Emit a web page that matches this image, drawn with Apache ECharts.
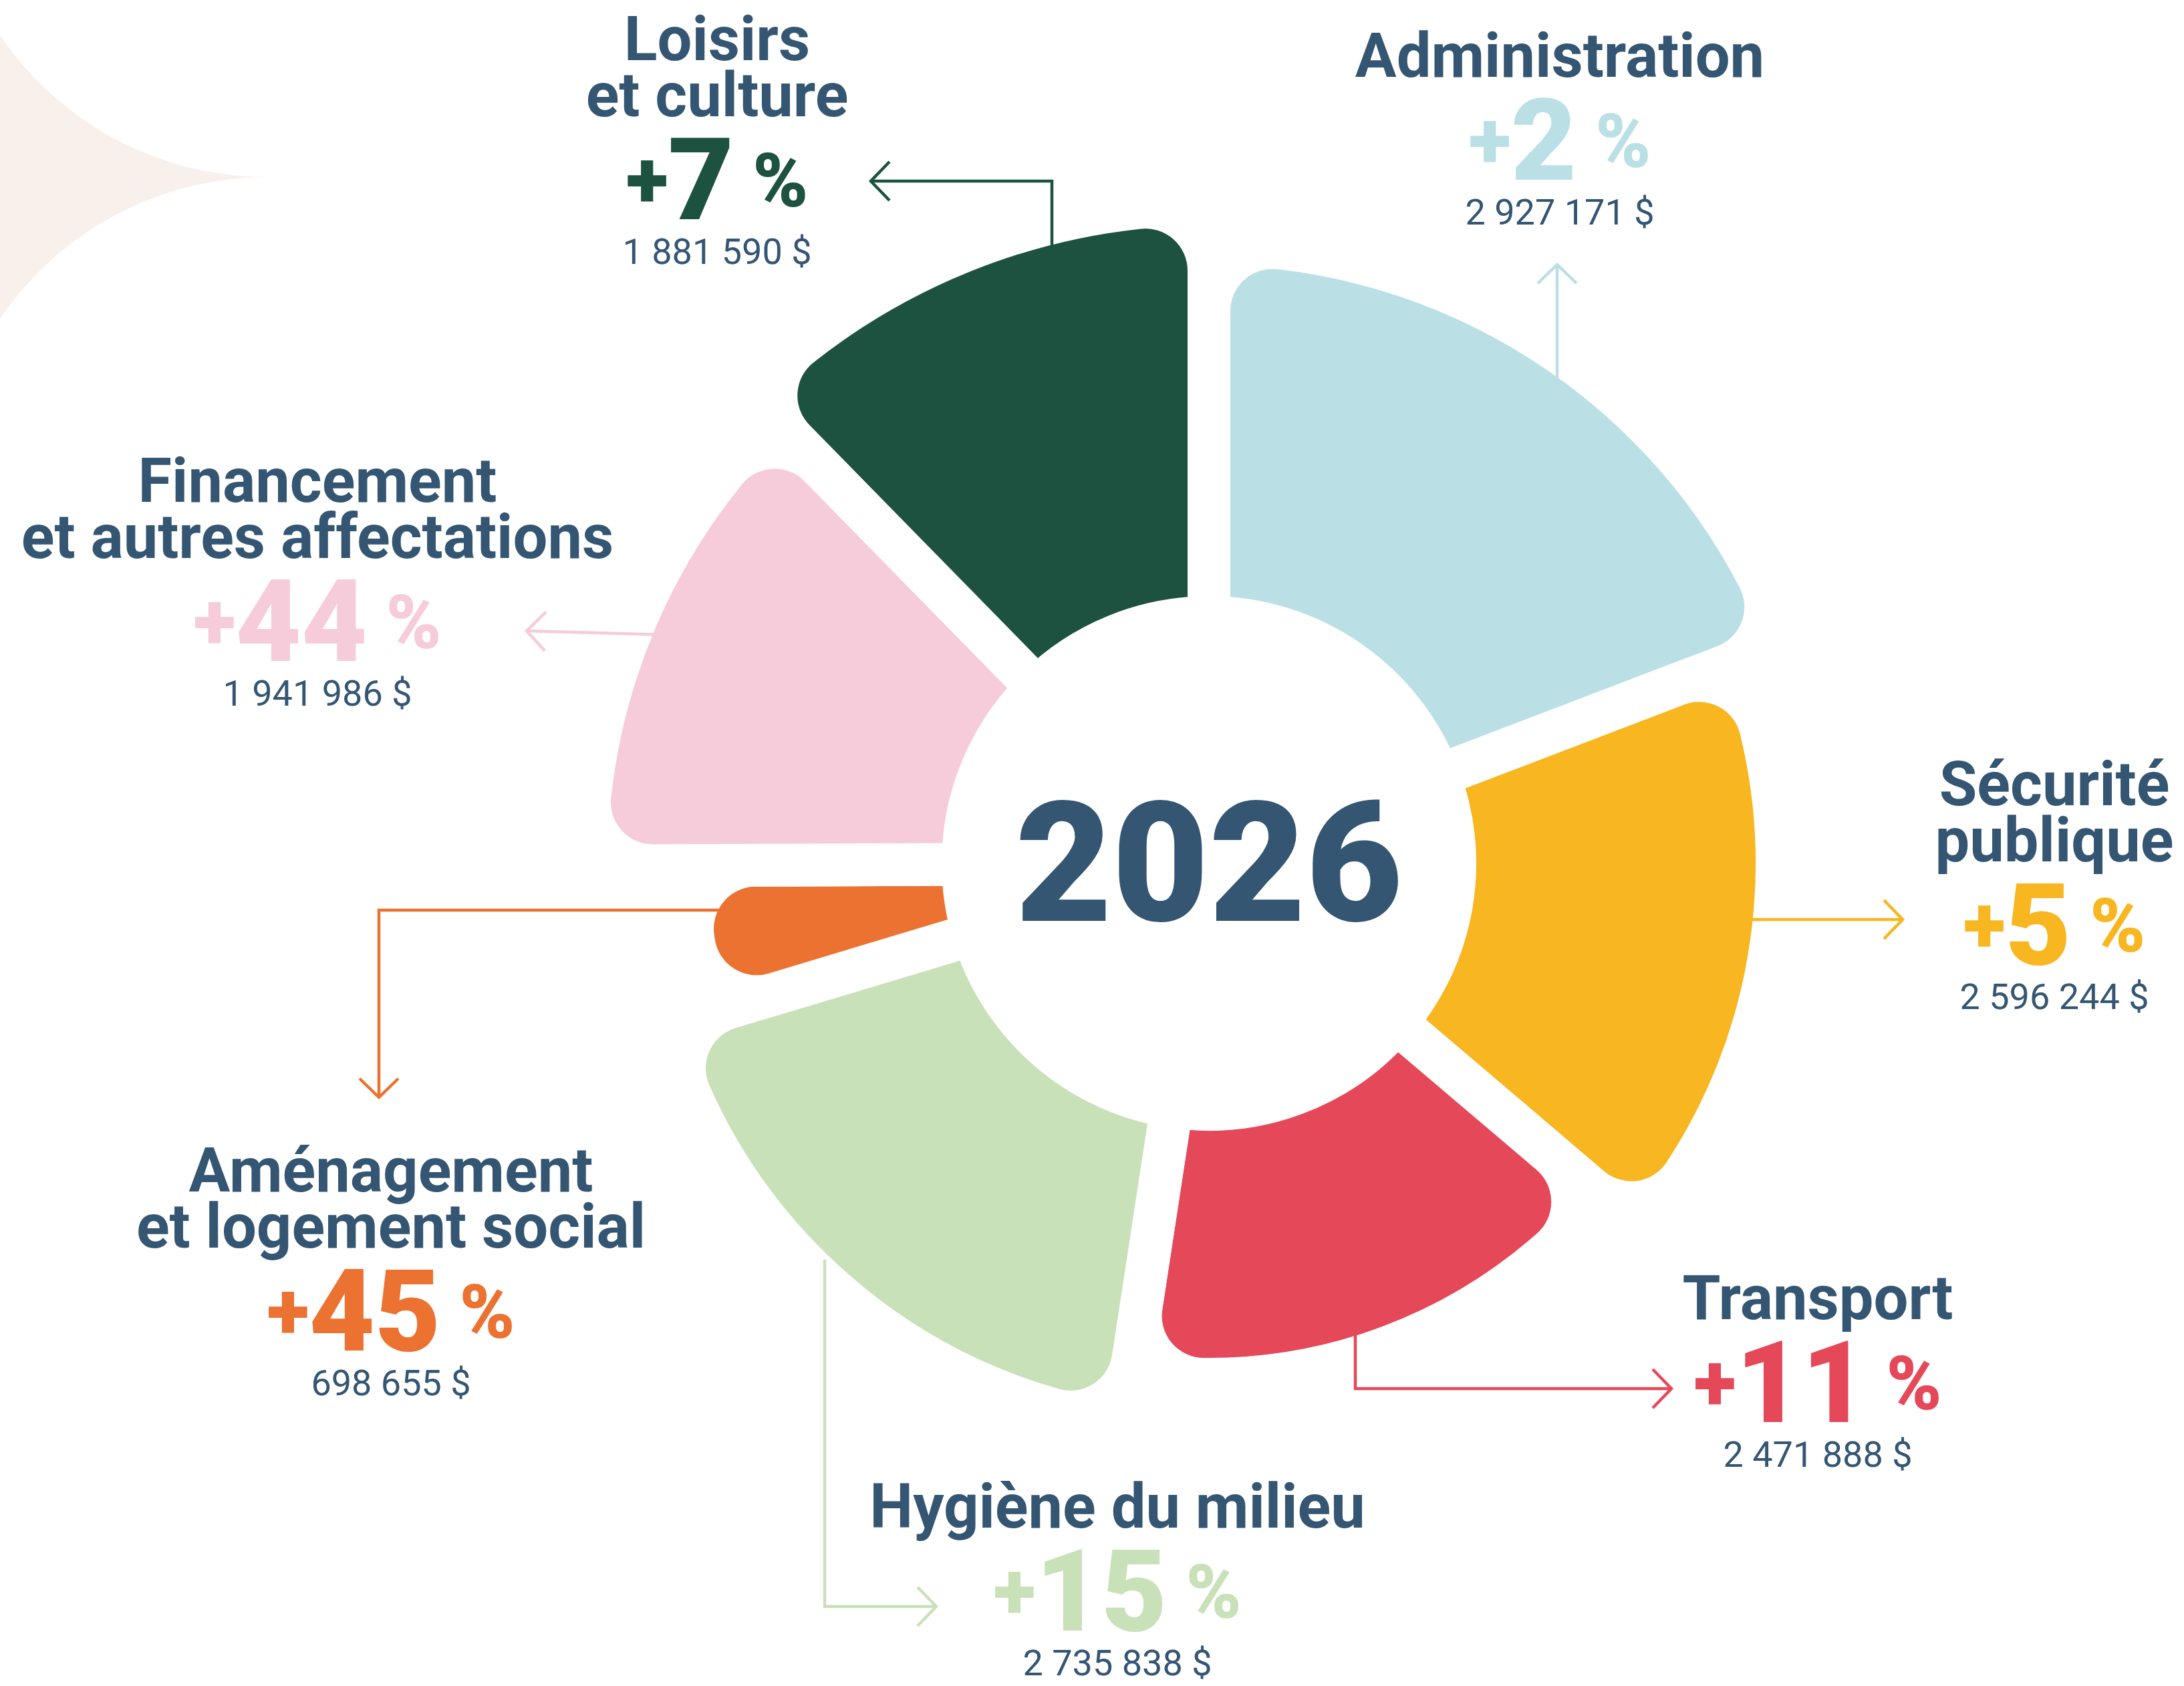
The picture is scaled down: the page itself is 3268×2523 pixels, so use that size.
<!DOCTYPE html>
<html>
<head>
<meta charset="utf-8">
<title>Budget 2026</title>
<script src="https://cdn.jsdelivr.net/npm/echarts@6/dist/echarts.min.js"></script>
<style>
  html, body { margin: 0; padding: 0; background: #fff; }
  #chart { width: 3268px; height: 2523px; }
</style>
</head>
<body>
<div id="chart"></div>
<script>
// Budget items, clockwise from 12 o'clock
const categories = [
  'Administration',
  'Sécurité\npublique',
  'Transport',
  'Hygiène du milieu',
  'Aménagement\net logement social',
  'Financement\net autres affectations',
  'Loisirs\net culture'
];
const amounts = [2927171, 2596244, 2471888, 2735838, 698655, 1941986, 1881590];
const changes = [2, 5, 11, 15, 45, 44, 7]; // % change
const year = '2026';

// Styling / layout (not data)
const colors = ['#BAE0E6', '#F8B620', '#E54859', '#C9E1B9', '#EC7231', '#F6CBDA', '#1D5140'];
const outerRadius = [895, 818, 740, 818, 748, 900, 955]; // visible outer edge, px
const labelAnchor = [[2334, 41], [3074, 1131], [2720, 1900], [1672, 2212], [585, 1709], [475, 677], [1073, 16]];
// leader lines, last point is the arrow tip
const connectors = [
  [[2330, 585], [2330, 396]],
  [[2600, 1376], [2847, 1376]],
  [[2028, 1985], [2028, 2078], [2501, 2078]],
  [[1234, 1885], [1234, 2404], [1401, 2404]],
  [[1085, 1362], [567, 1362], [567, 1642]],
  [[995, 950], [788, 944]],
  [[1574, 380], [1574, 271], [1303, 271]]
];

const navy = '#345673';
const CENTER = [1809, 1292];
const INNER = 400;   // visible inner edge
const GAP = 64;      // white gap between slices
const CORNER = 95;

const fmt = v => String(v).replace(/\B(?=(\d{3})+(?!\d))/g, ' ') + ' $';

function richFor(c) {
  return {
    t: { fontFamily: 'Roboto', fontWeight: 700, fontSize: 92, lineHeight: 84, color: navy },
    s: { fontFamily: 'Roboto', fontWeight: 900, fontSize: 118, lineHeight: 172, color: c },
    n: { fontFamily: 'Roboto', fontWeight: 900, fontSize: 170, lineHeight: 172, color: c },
    p: { fontFamily: 'Roboto', fontWeight: 900, fontSize: 112, lineHeight: 172, color: c },
    a: { fontFamily: 'Roboto', fontWeight: 400, fontSize: 54, lineHeight: 40, color: navy }
  };
}

function labelText(i) {
  return categories[i].split('\n').map(s => '{t|' + s + '}')
    .concat(['{s|+}{n|' + changes[i] + '}{p| %}', '{a|' + fmt(amounts[i]) + '}'])
    .join('\n');
}

// one pie per slice so each slice can have its own outer radius
const series = categories.map((cat, i) => ({
  type: 'pie',
  center: CENTER,
  radius: [INNER - GAP / 2, outerRadius[i] + GAP / 2],
  startAngle: 90,
  clockwise: true,
  avoidLabelOverlap: false,
  silent: true,
  animation: false,
  labelLine: { show: false },
  labelLayout: () => ({
    x: labelAnchor[i][0],
    y: labelAnchor[i][1],
    align: 'center',
    verticalAlign: 'top'
  }),
  data: categories.map((name, j) => j === i ? {
    name: name.replace('\n', ' '),
    value: amounts[j],
    itemStyle: { color: colors[j], borderColor: '#fff', borderWidth: GAP, borderRadius: [0, CORNER] },
    label: { show: true, position: 'outside', formatter: labelText(j), rich: richFor(colors[j]) }
  } : {
    name: name.replace('\n', ' '),
    value: amounts[j],
    itemStyle: { color: 'rgba(0,0,0,0)', borderWidth: 0 },
    label: { show: false }
  })
}));

// corner ornament: area between two circles, top left
function arcPts(cx, cy, r, a0, a1, n) {
  const out = [];
  for (let k = 0; k <= n; k++) {
    const a = a0 + (a1 - a0) * k / n;
    out.push([cx + r * Math.cos(a), cy + r * Math.sin(a)]);
  }
  return out;
}
const ornament = arcPts(400, -218, 483, Math.atan2(270, -400), Math.PI / 2, 40)
  .concat(arcPts(400, 748, 483, -Math.PI / 2, Math.atan2(-271, -400), 40));

const graphics = [{
  type: 'polygon',
  z: 0,
  shape: { points: ornament },
  style: { fill: '#F8F0EA' }
}];

// leader lines with open chevron heads
connectors.forEach((pts, i) => {
  const tip = pts[pts.length - 1];
  const prev = pts[pts.length - 2];
  const len = Math.hypot(tip[0] - prev[0], tip[1] - prev[1]);
  const dx = (tip[0] - prev[0]) / len, dy = (tip[1] - prev[1]) / len;
  const back = 28, spread = 29;
  graphics.push({
    type: 'polyline', z: 100,
    shape: { points: pts },
    style: { stroke: colors[i], lineWidth: 4.5, fill: null, lineJoin: 'miter' }
  });
  graphics.push({
    type: 'polyline', z: 100,
    shape: { points: [
      [tip[0] - back * dx - spread * dy, tip[1] - back * dy + spread * dx],
      tip,
      [tip[0] - back * dx + spread * dy, tip[1] - back * dy - spread * dx]
    ] },
    style: { stroke: colors[i], lineWidth: 4.5, fill: null }
  });
});
graphics.push({
  type: 'text', z: 100,
  x: CENTER[0], y: CENTER[1],
  style: {
    text: year, fill: navy, align: 'center', verticalAlign: 'middle',
    fontFamily: 'Roboto', fontWeight: 900, fontSize: 250
  }
});

const chart = echarts.init(document.getElementById('chart'), null, { renderer: 'svg' });
chart.setOption({
  backgroundColor: '#fff',
  animation: false,
  graphic: graphics,
  series: series
});
</script>
</body>
</html>
